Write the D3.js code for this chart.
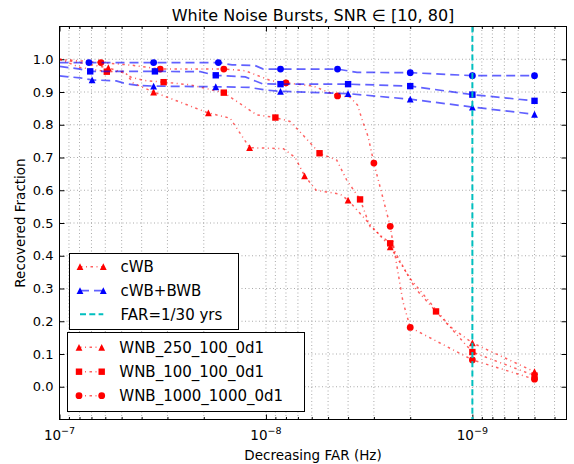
<!DOCTYPE html>
<html>
<head>
<meta charset="utf-8" />
<title>White Noise Bursts</title>
<style>
  body { margin: 0; background: #fff; }
  svg { display: block; font-family: "DejaVu Sans", sans-serif; }
</style>
</head>
<body>
<svg width="574" height="464"></svg>

<script src="https://d3js.org/d3.v7.min.js"></script>
<script>
// each point: [FAR (Hz), recovered fraction]
// cWB alone (red)
var cwb250Line = [[1e-7,1.0],[5.8e-8,0.974],[4.75e-8,0.956],[4.39e-8,0.927],[3.5e-8,0.9],[1.9e-8,0.836],[1.49e-8,0.82],
  [1.2e-8,0.73],[8.23e-9,0.727],[7.22e-9,0.70],[6.5e-9,0.644],[5.71e-9,0.60],[4.37e-9,0.588],[4e-9,0.57],
  [2.5e-9,0.427],[2e-9,0.33],[1.28e-9,0.183],[1e-9,0.134],[5e-10,0.046]];
var cwb250Marks = [[5.8e-8,0.974],[3.5e-8,0.9],[1.9e-8,0.836],[1.2e-8,0.73],[6.5e-9,0.644],[4e-9,0.57],
  [2.5e-9,0.427],[1e-9,0.134],[5e-10,0.046]];

var cwb100Line = [[1e-7,1.0],[7.94e-8,0.975],[5.9e-8,0.962],[4.93e-8,0.963],[4.5e-8,0.945],[3.88e-8,0.935],[3.13e-8,0.93],
  [2.33e-8,0.922],[1.6e-8,0.898],[1.107e-8,0.83],[9e-9,0.822],[7.64e-9,0.81],[6.58e-9,0.767],[5.5e-9,0.713],
  [4.54e-9,0.692],[4.06e-9,0.631],[3.5e-9,0.572],[3.13e-9,0.489],[2.5e-9,0.438],[1.89e-9,0.30],[1.5e-9,0.23],
  [1e-9,0.106],[5e-10,0.034]];
var cwb100Marks = [[5.9e-8,0.962],[3.13e-8,0.93],[1.6e-8,0.898],[9e-9,0.822],[5.5e-9,0.713],[3.5e-9,0.572],
  [2.5e-9,0.438],[1.5e-9,0.23],[1e-9,0.106],[5e-10,0.034]];

var cwb1000Line = [[1e-7,1.0],[6.3e-8,0.99],[4.5e-8,0.982],[3.25e-8,0.97],[1.6e-8,0.97],[1.26e-8,0.965],[9.5e-9,0.935],
  [8e-9,0.928],[5.9e-9,0.918],[4.5e-9,0.888],[3.93e-9,0.885],[3.6e-9,0.86],[3.4e-9,0.81],[3.2e-9,0.764],
  [3e-9,0.683],[2.5e-9,0.49],[2.17e-9,0.26],[2e-9,0.181],[1e-9,0.082],[5e-10,0.023]];
var cwb1000Marks = [[6.3e-8,0.99],[3.25e-8,0.97],[1.6e-8,0.97],[8e-9,0.928],[4.5e-9,0.888],[3e-9,0.683],
  [2.5e-9,0.49],[2e-9,0.181],[1e-9,0.082],[5e-10,0.023]];

// cWB+BWB (blue)
var bwb250Line = [[1e-7,0.949],[7.94e-8,0.943],[6.95e-8,0.937],[5.31e-8,0.934],[4.81e-8,0.926],[4.17e-8,0.92],
  [3.5e-8,0.918],[1.75e-8,0.916],[1.2e-8,0.914],[1.0e-8,0.906],[8.5e-9,0.902],[4e-9,0.895],[2e-9,0.878],
  [1e-9,0.854],[5e-10,0.832]];
var bwb250Marks = [[6.95e-8,0.937],[3.5e-8,0.918],[1.75e-8,0.916],[8.5e-9,0.902],[4e-9,0.895],[2e-9,0.878],
  [1e-9,0.854],[5e-10,0.832]];

var bwb100Line = [[1e-7,0.978],[7.94e-8,0.97],[7.1e-8,0.963],[3.45e-8,0.963],[2.08e-8,0.962],[1.75e-8,0.951],
  [1.26e-8,0.946],[1.04e-8,0.925],[8.5e-9,0.924],[4e-9,0.924],[2e-9,0.918],[1e-9,0.892],[5e-10,0.873]];
var bwb100Marks = [[7.1e-8,0.963],[3.45e-8,0.963],[1.75e-8,0.951],[8.5e-9,0.924],[4e-9,0.924],[2e-9,0.918],
  [1e-9,0.892],[5e-10,0.873]];

var bwb1000Line = [[1e-7,0.99],[7.2e-8,0.99],[3.5e-8,0.99],[1.7e-8,0.99],[1.46e-8,0.983],[1.13e-8,0.981],
  [1.03e-8,0.97],[8.5e-9,0.97],[4.5e-9,0.97],[3.62e-9,0.96],[2e-9,0.959],[1e-9,0.95],[5e-10,0.95]];
var bwb1000Marks = [[7.2e-8,0.99],[3.5e-8,0.99],[1.7e-8,0.99],[8.5e-9,0.97],[4.5e-9,0.97],[2e-9,0.959],
  [1e-9,0.95],[5e-10,0.95]];

var farLine = 1e-9;   // FAR = 1/30 yrs

var xMajor = [1e-7, 1e-8, 1e-9];
var yTicks = [0.0, 0.1, 0.2, 0.3, 0.4, 0.5, 0.6, 0.7, 0.8, 0.9, 1.0];
var legendA = ['cWB', 'cWB+BWB', 'FAR=1/30 yrs'];
var legendB = ['WNB_250_100_0d1', 'WNB_100_100_0d1', 'WNB_1000_1000_0d1'];

var RED = '#ff0000', BLUE = '#0000ff', CYAN = '#00bfbf';

var mLeft = 59.5, mTop = 26.5, W = 507, H = 393;
var svg = d3.select('svg');
var g = svg.append('g').attr('transform', 'translate(' + mLeft + ',' + mTop + ')');

var x = d3.scaleLog().domain([1e-7, 3.5e-10]).range([0, W]);
var y = d3.scaleLinear().domain([-0.1, 1.1]).range([H, 0]);

// minor ticks for each decade in view
var xMinor = [];
[1e-8, 1e-9, 1e-10].forEach(function (dec) {
  for (var k = 2; k <= 9; k++) {
    var v = k * dec;
    if (v < 1e-7 && v > 3.5e-10) xMinor.push(v);
  }
});

// grid
var grid = g.append('g').attr('stroke', '#000').attr('stroke-width', 0.6)
  .attr('stroke-dasharray', '1,2.5').attr('opacity', 0.55);
grid.selectAll('.gy').data(yTicks).enter().append('line')
  .attr('x1', 0).attr('x2', W).attr('y1', function (d) { return y(d); }).attr('y2', function (d) { return y(d); });
grid.selectAll('.gx').data(xMajor.concat(xMinor)).enter().append('line')
  .attr('y1', 0).attr('y2', H).attr('x1', function (d) { return x(d); }).attr('x2', function (d) { return x(d); });

// ticks (inside, all four sides)
function strip(sel) { sel.select('.domain').remove(); sel.selectAll('text').remove(); }
g.append('g').attr('transform', 'translate(0,' + H + ')').call(d3.axisBottom(x).tickValues(xMajor).tickSize(-5)).call(strip);
g.append('g').attr('transform', 'translate(0,' + H + ')').call(d3.axisBottom(x).tickValues(xMinor).tickSize(-2.5)).call(strip);
g.append('g').call(d3.axisTop(x).tickValues(xMajor).tickSize(-5)).call(strip);
g.append('g').call(d3.axisTop(x).tickValues(xMinor).tickSize(-2.5)).call(strip);
g.append('g').call(d3.axisLeft(y).tickValues(yTicks).tickSize(-5)).call(strip);
g.append('g').attr('transform', 'translate(' + W + ',0)').call(d3.axisRight(y).tickValues(yTicks).tickSize(-5)).call(strip);

// tick labels
g.selectAll('.ylab').data(yTicks).enter().append('text')
  .attr('x', -6).attr('y', function (d) { return y(d); }).attr('dy', '0.36em')
  .attr('text-anchor', 'end').attr('font-size', 13).text(d3.format('.1f'));

var xl = g.selectAll('.xlab').data(xMajor).enter().append('text')
  .attr('x', function (d) { return x(d); }).attr('y', H + 20.5)
  .attr('text-anchor', 'middle').attr('font-size', 13.5);
xl.append('tspan').text('10');
xl.append('tspan').attr('dy', -6).attr('font-size', 9.5)
  .text(function (d) { return '\u2212' + Math.round(-Math.log10(d)); });

// series
var clip = g.append('clipPath').attr('id', 'plotclip');
clip.append('rect').attr('width', W).attr('height', H);
var plot = g.append('g').attr('clip-path', 'url(#plotclip)');

var line = d3.line().x(function (d) { return x(d[0]); }).y(function (d) { return y(d[1]); });

function tri(s) { return 'M0,' + (-s) + 'L' + s + ',' + s + 'L' + (-s) + ',' + s + 'Z'; }
function marker(sel, cx, cy, shape, color) {
  if (shape === 'o') sel.append('circle').attr('cx', cx).attr('cy', cy).attr('r', 3.4).attr('fill', color);
  else if (shape === 's') sel.append('rect').attr('x', cx - 3.2).attr('y', cy - 3.2).attr('width', 6.4).attr('height', 6.4).attr('fill', color);
  else sel.append('path').attr('d', tri(3.4)).attr('transform', 'translate(' + cx + ',' + cy + ')').attr('fill', color);
}

var redStyle = { color: RED, dash: '2.5,3.5,1,3.5', width: 1.5, opacity: 0.62 };
var blueStyle = { color: BLUE, dash: '9,5', width: 1.7, opacity: 0.62 };

var series = [
  { line: cwb250Line, marks: cwb250Marks, shape: '^', st: redStyle },
  { line: cwb100Line, marks: cwb100Marks, shape: 's', st: redStyle },
  { line: cwb1000Line, marks: cwb1000Marks, shape: 'o', st: redStyle },
  { line: bwb250Line, marks: bwb250Marks, shape: '^', st: blueStyle },
  { line: bwb100Line, marks: bwb100Marks, shape: 's', st: blueStyle },
  { line: bwb1000Line, marks: bwb1000Marks, shape: 'o', st: blueStyle }
];
series.forEach(function (s) {
  plot.append('path').datum(s.line).attr('d', line).attr('fill', 'none')
    .attr('stroke', s.st.color).attr('stroke-width', s.st.width)
    .attr('stroke-dasharray', s.st.dash).attr('stroke-opacity', s.st.opacity);
  var mg = plot.append('g');
  s.marks.forEach(function (p) { marker(mg, x(p[0]), y(p[1]), s.shape, s.st.color); });
});

plot.append('line').attr('x1', x(farLine)).attr('x2', x(farLine)).attr('y1', 0).attr('y2', H)
  .attr('stroke', CYAN).attr('stroke-width', 2).attr('stroke-dasharray', '6,3.3');

// frame
g.append('rect').attr('width', W).attr('height', H).attr('fill', 'none').attr('stroke', '#000').attr('stroke-width', 1);

// legends
function legendBox(x0, y0, w, h) {
  svg.append('rect').attr('x', x0).attr('y', y0).attr('width', w).attr('height', h)
    .attr('fill', '#fff').attr('stroke', '#000').attr('stroke-width', 1);
}
function handle(yy, xa, xb, st, shape) {
  svg.append('line').attr('x1', xa).attr('x2', xb).attr('y1', yy).attr('y2', yy)
    .attr('stroke', st.color).attr('stroke-width', st.width)
    .attr('stroke-dasharray', st.dash).attr('stroke-opacity', st.opacity);
  if (shape) {
    marker(svg, xa, yy, shape, st.color);
    marker(svg, xb, yy, shape, st.color);
  }
}

legendBox(69.5, 253.5, 169, 76);
var rowsA = [266.7, 290.7, 314.3];
var stylesA = [[redStyle, '^'], [blueStyle, '^'], [{ color: CYAN, dash: '6,3.3', width: 2, opacity: 1 }, null]];
legendA.forEach(function (t, i) {
  handle(rowsA[i], 80, 103.3, stylesA[i][0], stylesA[i][1]);
  svg.append('text').attr('x', 120.5).attr('y', rowsA[i]).attr('dy', '0.36em')
    .attr('font-size', 15).text(t);
});

legendBox(67.5, 332.5, 237, 79);
var rowsB = [347.3, 371.7, 395.7];
var shapesB = ['^', 's', 'o'];
legendB.forEach(function (t, i) {
  handle(rowsB[i], 79, 101.7, redStyle, shapesB[i]);
  svg.append('text').attr('x', 119.3).attr('y', rowsB[i]).attr('dy', '0.36em')
    .attr('font-size', 15).text(t);
});

// titles
svg.append('text').attr('x', mLeft + W / 2).attr('y', 21).attr('text-anchor', 'middle')
  .attr('font-size', 16).text('White Noise Bursts, SNR \u2208 [10, 80]');
svg.append('text').attr('x', mLeft + W / 2).attr('y', 459.5).attr('text-anchor', 'middle')
  .attr('font-size', 13.5).text('Decreasing FAR (Hz)');
svg.append('text').attr('transform', 'translate(25,' + (mTop + H / 2) + ') rotate(-90)')
  .attr('text-anchor', 'middle').attr('font-size', 13.5).text('Recovered Fraction');
</script>
</body>
</html>
